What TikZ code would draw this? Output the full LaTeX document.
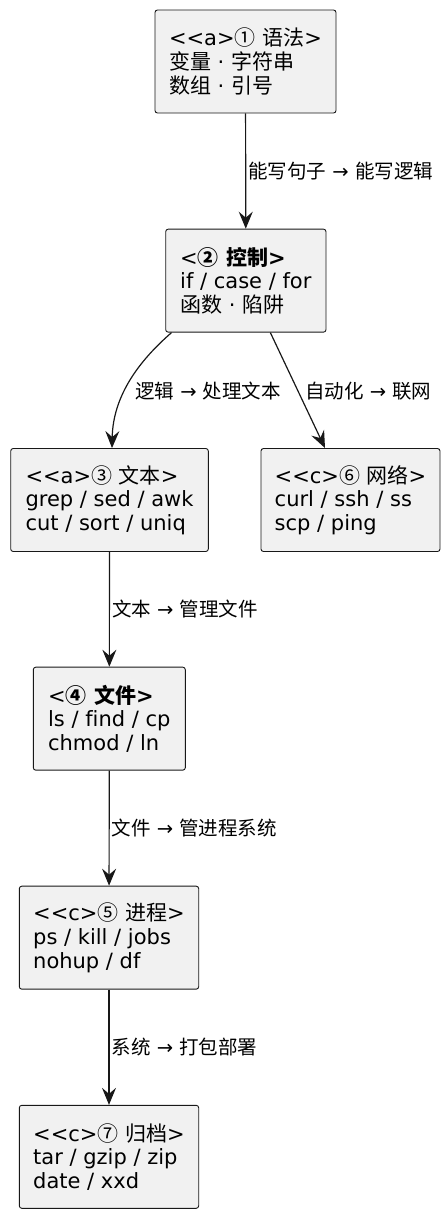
\documentclass[tikz,border=0pt]{standalone}
\usepackage{fontspec}
\setmainfont{DejaVu Sans}[Ligatures=NoCommon]
\newfontfamily\cjk{Noto Sans CJK SC}
\usetikzlibrary{arrows.meta}
\definecolor{boxfill}{HTML}{F1F1F1}
\definecolor{linec}{HTML}{181818}
\tikzset{
 box/.style={draw=linec, fill=boxfill, line width=0.9pt, rounded corners=2.5pt, minimum height=103pt, inner sep=0pt, align=left, font=\fontsize{21}{23.7}\selectfont},
 conn/.style={draw=linec, line width=1.2pt, -{Stealth[length=17pt,width=14pt,inset=6pt]}},
 lbl/.style={anchor=west, inner sep=0pt, font=\fontsize{19.5}{22}\selectfont}
}
\begin{document}
\begin{tikzpicture}[x=1pt,y=-1pt]
\useasboundingbox (0,0) rectangle (447,1216);
\node[box, minimum width=181pt] (b1) at (245.5,61.5) {<{}<a>{\cjk ①} {\cjk 语法}>\\{\cjk 变量} · {\cjk 字符串}\\{\cjk 数组} · {\cjk 引号}};
\node[box, minimum width=160.3pt] (b2) at (245.85,280.65) {<{\bfseries{\cjk ②} {\cjk 控制}>}\\if / case / for\\{\cjk 函数} · {\cjk 陷阱}};
\node[box, minimum width=197.6pt] (b3) at (109.5,500) {<{}<a>{\cjk ③} {\cjk 文本}>\\grep / sed / awk\\cut / sort / uniq};
\node[box, minimum width=179pt] (b6) at (350.5,500) {<{}<c>{\cjk ⑥} {\cjk 网络}>\\curl / ssh / ss\\scp / ping};
\node[box, minimum width=152pt] (b4) at (109.3,718.65) {<{\bfseries{\cjk ④} {\cjk 文件}>}\\ls / find / cp\\chmod / ln};
\node[box, minimum width=179.4pt] (b5) at (109,937.65) {<{}<c>{\cjk ⑤} {\cjk 进程}>\\ps / kill / jobs\\nohup / df};
\node[box, minimum width=179.4pt] (b7) at (109,1156.8) {<{}<c>{\cjk ⑦} {\cjk 归档}>\\tar / gzip / zip\\date / xxd};

\draw[conn] (b1) -- node[lbl, xshift=2pt] (l12) {{\cjk 能写句子} → {\cjk 能写逻辑}} (b2);
\draw[conn] ([xshift=6.3pt]b2.south west) .. controls (140,360) and (113,395) .. ([xshift=2.5pt]b3.north);
\node[lbl] (l23) at (135,390.7) {{\cjk 逻辑} → {\cjk 处理文本}};
\draw[conn] ([xshift=24.5pt]b2.south) -- ([xshift=-25.5pt]b6.north);
\node[lbl] (l26) at (305,390.7) {{\cjk 自动化} → {\cjk 联网}};
\draw[conn] (b3) -- node[lbl, xshift=2pt] (l34) {{\cjk 文本} → {\cjk 管理文件}} (b4);
\draw[conn] (b4) -- node[lbl, xshift=2pt] (l45) {{\cjk 文件} → {\cjk 管进程系统}} (b5);
\draw[conn] (b5) -- node[lbl, xshift=2pt] (l57) {{\cjk 系统} → {\cjk 打包部署}} (b7);
\end{tikzpicture}
\end{document}
